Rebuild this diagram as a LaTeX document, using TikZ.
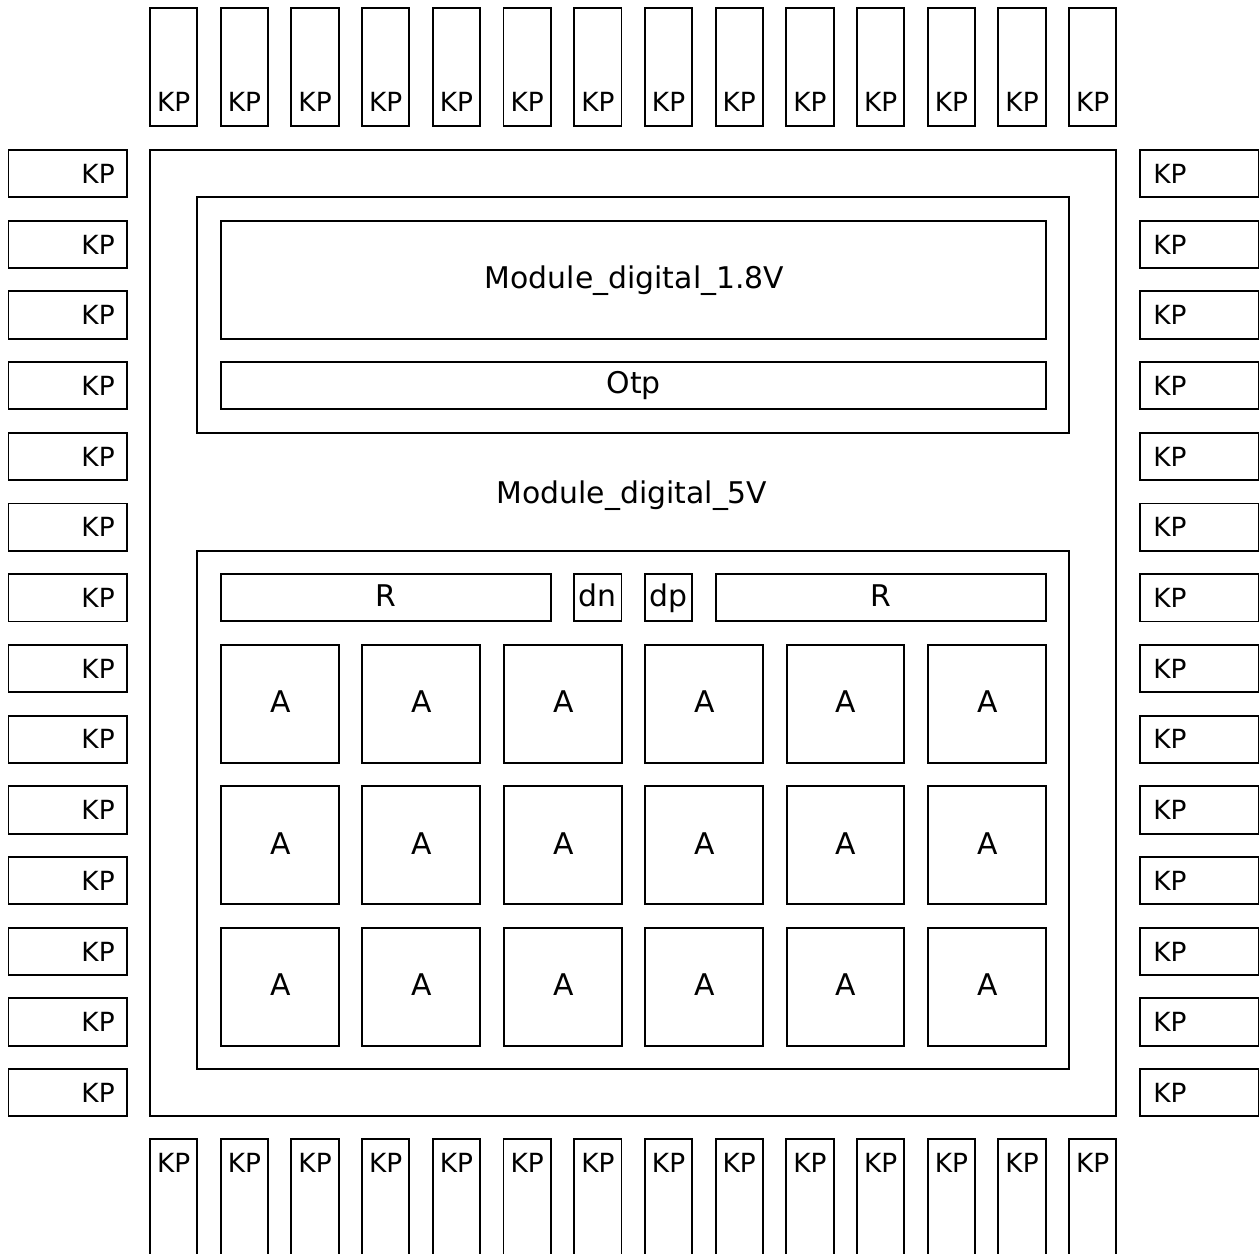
\documentclass[tikz,border=0pt]{standalone}
\usepackage{fontspec}
\setmainfont{DejaVu Sans}
\usetikzlibrary{calc}
\tikzset{
  blk/.style={draw, line width=1.1pt, rectangle, inner sep=0pt, outer sep=0pt},
  vpad/.style={blk, minimum width=0.946cm, minimum height=2.37cm},
  hpad/.style={blk, minimum width=2.37cm, minimum height=0.946cm},
  small/.style={inner sep=0pt, font=\fontsize{15pt}{18pt}\selectfont},
  big/.style={inner sep=0pt, font=\fontsize{17pt}{20pt}\selectfont},
}
\begin{document}
\begin{tikzpicture}[x=0.02cm, y=-0.02cm]
\useasboundingbox (0,0) rectangle (1259,1254);
\clip (0,0) rectangle (1259,1254);
% pads
\foreach \i in {0,...,13} {
  \pgfmathsetmacro\c{173.65+70.7*\i}
  \node[vpad] (t\i) at (\c,67) {};
  \node[small, anchor=base] (tl\i) at (\c,112) {KP};
  \node[vpad] (b\i) at (\c,1198.25) {};
  \node[small, anchor=base] (bl\i) at (\c,1172.5) {KP};
  \node[hpad] (l\i) at (67.75,\c) {};
  \node[small, anchor=base east] (ll\i) at (115,\c+9.7) {KP};
  \node[hpad] (r\i) at (1199.25,\c) {};
  \node[small, anchor=base west] (rl\i) at (1153,\c+9.7) {KP};
}
% main die
\node[blk, minimum width=19.328cm, minimum height=19.328cm] (die) at (633.2,633.2) {};
% 1.8V domain
\node[blk, minimum width=17.436cm, minimum height=4.71cm] (in1) at (633.2,315.05) {};
\node[blk, minimum width=16.496cm, minimum height=2.36cm] (m18) at (633.4,279.7) {};
\node[big, anchor=base] (m18t) at (634.5,288.5) {Module\_digital\_1.8V};
\node[blk, minimum width=16.496cm, minimum height=0.946cm] (otp) at (633.4,385.65) {};
\node[big, anchor=base] (otpt) at (633.8,393) {Otp};
% 5V label
\node[big, anchor=base] (m5t) at (632,503) {Module\_digital\_5V};
% analog domain
\node[blk, minimum width=17.436cm, minimum height=10.372cm] (in2) at (633.2,809.8) {};
\node[blk, minimum width=6.6cm, minimum height=0.946cm] (r1) at (386,597.65) {};
\node[big, anchor=base] (r1t) at (386,606) {R};
\node[blk, minimum width=0.946cm, minimum height=0.946cm] (dn) at (597.85,597.65) {};
\node[big, anchor=base] (dnt) at (597.85,606.7) {dn};
\node[blk, minimum width=0.946cm, minimum height=0.946cm] (dp) at (668.65,597.65) {};
\node[big, anchor=base] (dpt) at (668.65,606.7) {dp};
\node[blk, minimum width=6.596cm, minimum height=0.946cm] (r2) at (880.9,597.65) {};
\node[big, anchor=base] (r2t) at (880.9,606) {R};
\foreach \k in {0,...,5} {
  \foreach \j in {0,1,2} {
    \pgfmathsetmacro\cx{279.9+141.4*\k}
    \pgfmathsetmacro\cy{703.9+141.4*\j}
    \node[blk, minimum width=2.356cm, minimum height=2.356cm] (a\k\j) at (\cx,\cy) {};
    \node[big, anchor=base] (at\k\j) at (\cx+0.6,\cy+9) {A};
  }
}
\end{tikzpicture}
\end{document}
